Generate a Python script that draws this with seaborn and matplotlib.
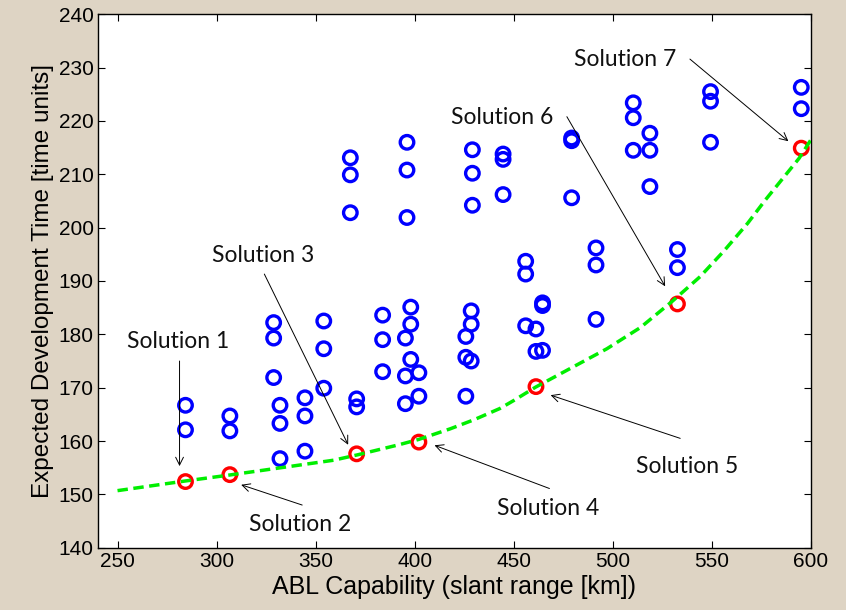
import numpy as np
import pandas as pd
import matplotlib
matplotlib.use('Agg')
import matplotlib.pyplot as plt
import seaborn as sns

# all candidate designs (blue circles)
cand_x = [284.3, 284.3, 306.7, 306.7, 328.8, 328.8, 328.8, 332.0, 332.0, 332.0,
          344.6, 344.6, 344.6, 354.1, 354.1, 354.1, 370.7, 370.7, 367.5, 367.5,
          367.5, 383.8, 383.8, 383.8, 396.1, 396.1, 396.1, 395.3, 395.3, 395.3,
          398.0, 398.0, 398.0, 402.1, 402.1, 425.8, 425.8, 428.5, 428.5, 428.5,
          425.8, 429.1, 429.1, 429.1, 444.6, 444.6, 444.6, 456.0, 456.0, 456.0,
          461.2, 461.2, 464.5, 464.5, 464.5, 479.2, 479.2, 479.2, 491.5, 491.5,
          491.5, 510.3, 510.3, 510.3, 518.7, 518.7, 518.7, 532.6, 532.6, 549.3,
          549.3, 549.3, 595.1, 595.1]
cand_y = [166.7, 162.1, 164.7, 161.9, 182.2, 179.3, 171.9, 166.7, 163.3, 156.7,
          168.1, 164.7, 158.1, 182.5, 177.3, 169.9, 167.9, 166.4, 213.1, 209.9,
          202.8, 183.6, 179.0, 173.0, 216.0, 210.8, 201.9, 179.3, 172.2, 167.0,
          185.1, 181.9, 175.3, 172.8, 168.4, 179.6, 175.7, 175.0, 184.4, 181.9,
          168.4, 214.6, 210.2, 204.2, 213.8, 212.8, 206.2, 193.7, 191.3, 181.6,
          181.0, 176.8, 177.0, 185.9, 185.4, 216.8, 216.3, 205.6, 196.2, 193.0,
          182.8, 223.4, 220.6, 214.5, 217.7, 214.5, 207.7, 195.9, 192.5, 225.5,
          223.7, 216.0, 226.3, 222.3]

# pareto solutions (red circles)
sol_x = [284.3, 306.7, 370.7, 402.1, 461.2, 532.6, 595.1]
sol_y = [152.4, 153.7, 157.6, 159.8, 170.2, 185.7, 214.9]

# pareto front (green dashed)
front_x = [250, 284, 306, 342, 359, 371, 392, 402, 418, 430, 443, 450, 461, 480,
           497, 514, 530, 544, 556, 568, 577, 594, 600]
front_y = [150.7, 152.5, 153.6, 155.5, 156.4, 157.4, 159.3, 160.3, 162.3, 164.0,
           166.1, 167.6, 170.1, 173.9, 177.3, 181.3, 186.2, 190.8, 195.6, 200.8,
           205.2, 213.0, 216.5]

# annotation labels: text centre, arrow start, arrow end
labels = ['Solution 1', 'Solution 2', 'Solution 3', 'Solution 4',
          'Solution 5', 'Solution 6', 'Solution 7']
text_xy = [(280.5, 178.6), (342.4, 144.4), (323.3, 194.8), (467.2, 147.3),
           (537.5, 155.3), (444.1, 220.6), (506.3, 231.6)]
arrow_from = [(281.3, 175.0), (343.2, 148.0), (324.1, 191.3), (468.0, 151.1),
              (534.0, 160.5), (476.8, 220.8), (538.9, 231.6)]
arrow_to = [(281.3, 155.3), (312.4, 151.8), (366.4, 159.3), (410.0, 159.2),
            (468.6, 168.6), (526.4, 189.0), (588.6, 216.2)]

sns.set_style('ticks')
plt.rcParams['font.family'] = ['Liberation Sans', 'DejaVu Sans']

bg = '#ded4c4'
fig = plt.figure(figsize=(8.46, 6.10), dpi=100, facecolor=bg)
ax = fig.add_axes([0.1155, 0.1021, 0.9586 - 0.1155, 0.9766 - 0.1021])
ax.set_facecolor('white')

cand = pd.DataFrame({'x': cand_x, 'y': cand_y})
sols = pd.DataFrame({'x': sol_x, 'y': sol_y})
front = pd.DataFrame({'x': front_x, 'y': front_y})

sns.scatterplot(data=cand, x='x', y='y', ax=ax, marker='o', s=95,
                facecolor='none', edgecolor='#0000ff', linewidth=2.4, zorder=3)
sns.scatterplot(data=sols, x='x', y='y', ax=ax, marker='o', s=95,
                facecolor='none', edgecolor='#ff0000', linewidth=2.4, zorder=3)
sns.lineplot(data=front, x='x', y='y', ax=ax, color='#00ee00', lw=2.5,
             linestyle=(0, (3, 1.6)), sort=False, zorder=4)

for lab, t, a0, a1 in zip(labels, text_xy, arrow_from, arrow_to):
    ax.text(t[0], t[1], lab, ha='center', va='center', fontsize=16.5,
            family=['Lato', 'DejaVu Sans'], color='#111111', zorder=5)
    ax.annotate('', xy=a1, xytext=a0,
                arrowprops=dict(arrowstyle='->', color='black', lw=0.7,
                                shrinkA=0, shrinkB=0, mutation_scale=14),
                zorder=5)

ax.set_xlim(240, 600)
ax.set_ylim(140, 240)
ax.set_xticks(np.arange(250, 601, 50))
ax.set_yticks(np.arange(140, 241, 10))
ax.tick_params(direction='in', top=True, right=True, length=5, width=0.8,
               labelsize=15, colors='black', labelcolor='black', pad=3)
for s in ax.spines.values():
    s.set_linewidth(1.0)
    s.set_color('black')

ax.set_xlabel('ABL Capability (slant range [km])', fontsize=18, labelpad=3,
              color='black')
ax.set_ylabel('Expected Development Time [time units]', fontsize=17.5,
              labelpad=3, color='black')

fig.savefig('out.png', dpi=100, facecolor=bg)
